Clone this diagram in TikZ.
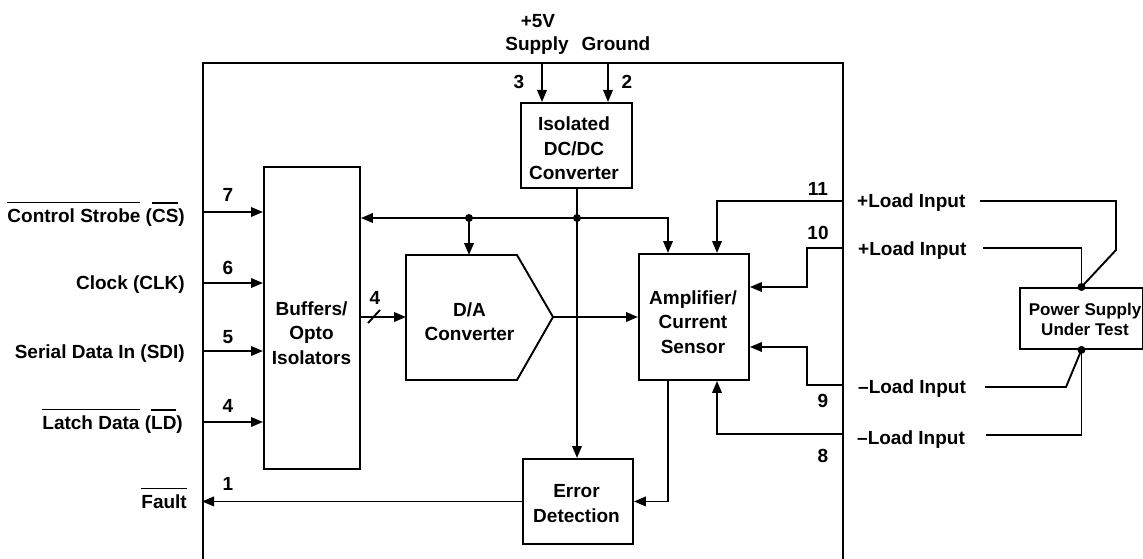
\documentclass[tikz,border=0pt]{standalone}
\usepackage{fontspec}
\setmainfont{Liberation Sans}
\usetikzlibrary{arrows.meta}
\newcommand\ovl[1]{\vbox{\hrule height 1.3pt\kern 5.2pt\hbox{#1}}}
\begin{document}
\begin{tikzpicture}[x=1pt,y=-1pt,
  lw/.style={line width=1.9pt},
  box/.style={draw,lw,inner sep=0pt,anchor=north west},
  arr/.style={lw,-{Triangle[length=12pt,width=9.5pt]}},
  arrtwo/.style={lw,{Triangle[length=12pt,width=9.5pt]}-{Triangle[length=12pt,width=9.5pt]}},
  lbl/.style={font=\bfseries\fontsize{19pt}{24.5pt}\selectfont,inner sep=0pt},
  txt/.style={lbl,align=center},
  dot/.style={circle,fill,inner sep=0pt,minimum size=8pt}]
\useasboundingbox (0,0) rectangle (1143,559);
% boxes
\node[box,minimum width=640pt,minimum height=540pt] (outer) at (202,62) {};
\node[box,minimum width=96pt,minimum height=302pt] (buf) at (263,166) {};
\node[box,minimum width=111pt,minimum height=85pt] (dc) at (520,102) {};
\node[box,minimum width=110pt,minimum height=126pt] (amp) at (638,253) {};
\node[box,minimum width=110pt,minimum height=85pt] (err) at (522,458) {};
\node[box,minimum width=123pt,minimum height=61pt] (ps) at (1019,287) {};
% D/A shape
\coordinate (daNW) at (406,255);
\coordinate (daNE) at (517,255);
\coordinate (daTip) at (553,317);
\coordinate (daSE) at (517,380);
\coordinate (daSW) at (406,380);
\draw[lw] (daNW) -- (daNE) -- (daTip) -- (daSE) -- (daSW) -- cycle;
% box texts
\node[txt] (bufT) at (311.5,333) {Buffers/\\Opto\\Isolators};
\node[txt] (dcT) at (574,148.5) {Isolated\\DC/DC\\Converter};
\node[txt] (ampT) at (693,322) {Amplifier/\\Current\\Sensor};
\node[txt] (daT) at (469.5,321.5) {D/A\\Converter};
\node[txt] (errT) at (576.5,503.5) {Error\\Detection};
\node[txt,font=\bfseries\fontsize{17pt}{20pt}\selectfont] (psT) at (1085,319.5) {Power Supply\\Under Test};
% top inputs
\draw[arr] (outer.north -| 542,0) -- (dc.north -| 542,0);
\draw[arr] (outer.north -| 608,0) -- (dc.north -| 608,0);
\node[lbl,anchor=base] (t5v) at (538,28) {+5V};
\node[lbl,anchor=base] (tsup) at (537,51) {Supply};
\node[lbl,anchor=base] (tgnd) at (616,51) {Ground};
\node[lbl,anchor=base] (p3) at (519,89) {3};
\node[lbl,anchor=base] (p2) at (627,89) {2};
% left inputs
\draw[arr] (outer.west |- 0,212) -- (buf.west |- 0,212);
\draw[arr] (outer.west |- 0,283) -- (buf.west |- 0,283);
\draw[arr] (outer.west |- 0,351) -- (buf.west |- 0,351);
\draw[arr] (outer.west |- 0,422) -- (buf.west |- 0,422);
\node[lbl,anchor=base] (p7) at (228,201) {7};
\node[lbl,anchor=base] (p6) at (228,274) {6};
\node[lbl,anchor=base] (p5) at (228,343) {5};
\node[lbl,anchor=base] (p4) at (228,412) {4};
\node[lbl,anchor=base] (p1) at (228,490) {1};
\node[lbl,anchor=base east] (lcs) at (185,222) {\ovl{Control Strobe} (\ovl{CS})};
\node[lbl,anchor=base east] (lclk) at (185,289) {Clock (CLK)};
\node[lbl,anchor=base east] (lsdi) at (185,358) {Serial Data In (SDI)};
\node[lbl,anchor=base east] (lld) at (183,429) {\ovl{Latch Data} (\ovl{LD})};
\node[lbl,anchor=base east] (lfault) at (187,508) {\ovl{Fault}};
% fault output
\draw[arr] (err.west) -- (err.west -| outer.west);
% bus
\coordinate (j1) at (469,218);
\coordinate (j2) at (577,218);
\coordinate (ab) at (668,218);
\draw[arrtwo] (buf.east |- j1) -- (ab) -- (ab |- amp.north);
\draw[arr] (j1) -- (j1 |- daNW);
\draw[arr] (dc.south -| j2) -- (j2 |- err.north);
\node[dot] (d1) at (j1) {};
\node[dot] (d2) at (j2) {};
% D/A connections
\draw[arr] (buf.east |- daTip) -- (daTip -| daSW);
\draw[lw] (368,323) -- (380,310);
\node[lbl,anchor=base] (p4b) at (375,304) {4};
\draw[arr] (daTip) -- (daTip -| amp.west);
% amp to error
\draw[arr] (amp.south -| ab) |- (err.east);
% load inputs
\draw[arr] (outer.east |- 0,201) -| (amp.north -| 717,0);
\draw[arr] (outer.east |- 0,248) -- (807,248) |- (amp.east |- 0,287);
\draw[arr] (outer.east |- 0,385) -- (807,385) |- (amp.east |- 0,347);
\draw[arr] (outer.east |- 0,434) -| (amp.south -| 717,0);
\node[lbl,anchor=base] (p11) at (818,195) {11};
\node[lbl,anchor=base] (p10) at (818,239) {10};
\node[lbl,anchor=base] (p9) at (823,407) {9};
\node[lbl,anchor=base] (p8) at (823,462) {8};
\node[lbl,anchor=base west] (r1) at (857,207) {+Load Input};
\node[lbl,anchor=base west] (r2) at (858,255) {+Load Input};
\node[lbl,anchor=base west] (r3) at (858,393) {–Load Input};
\node[lbl,anchor=base west] (r4) at (857,444) {–Load Input};
% wires to power supply
\coordinate (w1) at (980,201);
\coordinate (w2) at (983,248);
\coordinate (w3) at (985,387);
\coordinate (w4) at (986,435);
\draw[lw] (w1) -| (1116,250) -- (ps.north);
\draw[lw] (w2) -| (ps.north);
\draw[lw] (w3) -- (1066,387) -- (ps.south);
\draw[lw] (w4) -| (ps.south);
\node[dot] (d3) at (ps.north) {};
\node[dot] (d4) at (ps.south) {};
\end{tikzpicture}
\end{document}
